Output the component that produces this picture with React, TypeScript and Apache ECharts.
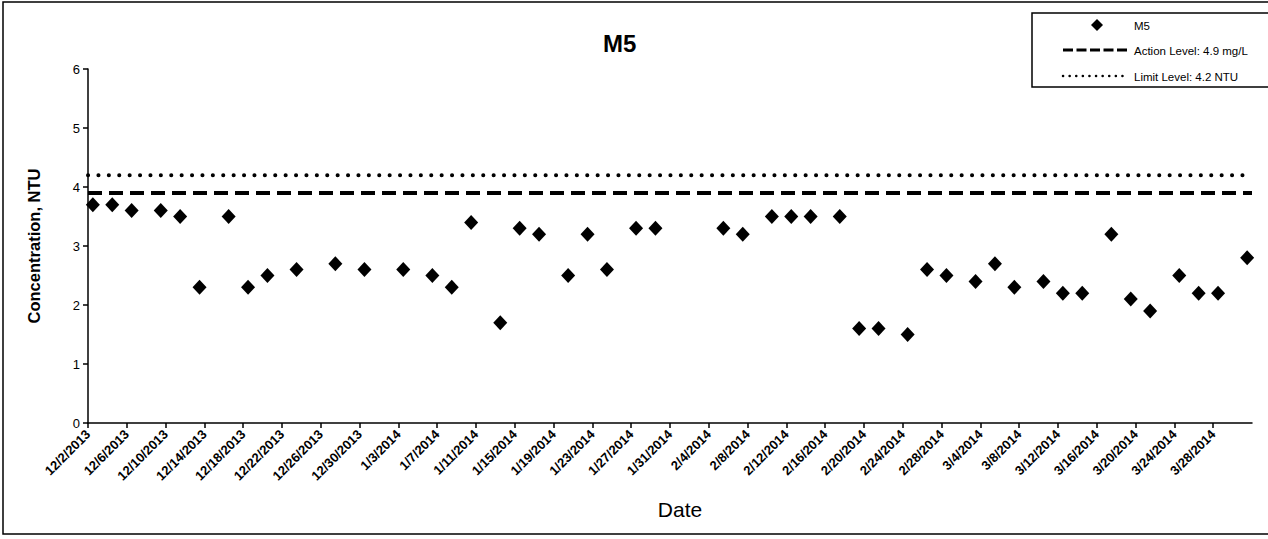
import React, { useEffect, useRef } from "react";
import * as echarts from "echarts";

// ---- data ----
const sampleDates: string[] = [
  "12/2/2013", "12/4/2013", "12/6/2013", "12/9/2013", "12/11/2013", "12/13/2013",
  "12/16/2013", "12/18/2013", "12/20/2013", "12/23/2013", "12/27/2013", "12/30/2013",
  "1/3/2014", "1/6/2014", "1/8/2014", "1/10/2014", "1/13/2014", "1/15/2014",
  "1/17/2014", "1/20/2014", "1/22/2014", "1/24/2014", "1/27/2014", "1/29/2014",
  "2/5/2014", "2/7/2014", "2/10/2014", "2/12/2014", "2/14/2014", "2/17/2014",
  "2/19/2014", "2/21/2014", "2/24/2014", "2/26/2014", "2/28/2014", "3/3/2014",
  "3/5/2014", "3/7/2014", "3/10/2014", "3/12/2014", "3/14/2014", "3/17/2014",
  "3/19/2014", "3/21/2014", "3/24/2014", "3/26/2014", "3/28/2014", "3/31/2014",
];
const m5Values: number[] = [
  3.7, 3.7, 3.6, 3.6, 3.5, 2.3,
  3.5, 2.3, 2.5, 2.6, 2.7, 2.6,
  2.6, 2.5, 2.3, 3.4, 1.7, 3.3,
  3.2, 2.5, 3.2, 2.6, 3.3, 3.3,
  3.3, 3.2, 3.5, 3.5, 3.5, 3.5,
  1.6, 1.6, 1.5, 2.6, 2.5, 2.4,
  2.7, 2.3, 2.4, 2.2, 2.2, 3.2,
  2.1, 1.9, 2.5, 2.2, 2.2, 2.8,
];
const axisStartDate = "12/2/2013";
const axisEndDate = "4/1/2014";
const actionLevelValues: number[] = [3.9, 3.9];
const limitLevelValues: number[] = [4.2, 4.2];
const yTickValues: number[] = [0, 1, 2, 3, 4, 5, 6];
const xTickStepDays = 4;

const seriesNames = ["M5", "Action Level: 4.9 mg/L", "Limit Level: 4.2 NTU"];

const DAY = 86400000;
function toUTC(s: string): number {
  const [m, d, y] = s.split("/").map(Number);
  return Date.UTC(y, m - 1, d);
}
const startMs = toUTC(axisStartDate);
const endDay = Math.round((toUTC(axisEndDate) - startMs) / DAY);
function dayIndex(s: string): number {
  return Math.round((toUTC(s) - startMs) / DAY);
}
function dateLabel(v: number): string {
  const dt = new Date(startMs + v * DAY);
  return `${dt.getUTCMonth() + 1}/${dt.getUTCDate()}/${dt.getUTCFullYear()}`;
}

const FONT = "'Liberation Sans', Arial, sans-serif";

export default function App() {
  const ref = useRef<HTMLDivElement>(null);
  useEffect(() => {
    document.body.style.margin = "0";
    if (!ref.current) return;
    const chart = echarts.init(ref.current, undefined, { renderer: "svg" });

    // points are centred in their day (Excel date axis, between tick marks)
    const scatterData = sampleDates.map((d, i) => [dayIndex(d) + 0.5, m5Values[i]]);
    const actionData = [[0, actionLevelValues[0]], [endDay, actionLevelValues[1]]];
    const limitData = [[0, limitLevelValues[0]], [endDay, limitLevelValues[1]]];

    chart.setOption({
      animation: false,
      backgroundColor: "#ffffff",
      textStyle: { fontFamily: FONT, color: "#000" },
      title: {
        text: "M5",
        left: 598,
        top: 26,
        textStyle: { fontFamily: FONT, fontSize: 24, fontWeight: "bold", color: "#000" },
      },
      grid: { left: 88, right: 16, top: 69, bottom: 116 },
      xAxis: {
        type: "value",
        min: 0,
        max: endDay,
        interval: xTickStepDays,
        name: "Date",
        nameLocation: "middle",
        nameGap: 76,
        nameTextStyle: { fontFamily: FONT, fontSize: 21, color: "#000", padding: [0, 0, 0, 20] },
        axisLine: { lineStyle: { color: "#000", width: 1.5 } },
        axisTick: { length: 5, lineStyle: { color: "#000", width: 1.5 } },
        splitLine: { show: false },
        axisLabel: {
          rotate: 45,
          margin: 9,
          fontFamily: FONT,
          fontSize: 13,
          fontWeight: "bold",
          color: "#000",
          showMaxLabel: false,
          formatter: (v: number) => (v >= endDay ? "" : dateLabel(v)),
        },
      },
      yAxis: {
        type: "value",
        min: yTickValues[0],
        max: yTickValues[yTickValues.length - 1],
        interval: 1,
        name: "Concentration, NTU",
        nameLocation: "middle",
        nameGap: 46,
        nameRotate: 90,
        nameTextStyle: { fontFamily: FONT, fontSize: 16.5, fontWeight: "bold", color: "#000" },
        axisLine: { show: true, lineStyle: { color: "#000", width: 1.5 } },
        axisTick: { show: true, length: 5, lineStyle: { color: "#000", width: 1.5 } },
        splitLine: { show: false },
        axisLabel: { fontFamily: FONT, fontSize: 13, color: "#000", margin: 8 },
      },
      series: [
        {
          name: seriesNames[0],
          type: "scatter",
          data: scatterData,
          symbol: "diamond",
          symbolSize: [14, 15],
          itemStyle: { color: "#000", opacity: 1 },
          z: 5,
        },
        {
          name: seriesNames[1],
          type: "line",
          data: actionData,
          showSymbol: false,
          symbol: "none",
          lineStyle: { color: "#000", width: 4, type: [14, 7] },
          z: 3,
        },
        {
          name: seriesNames[2],
          type: "line",
          data: limitData,
          showSymbol: false,
          symbol: "none",
          lineStyle: { color: "#000", width: 4, type: [0.1, 10.3], cap: "round" },
          z: 3,
        },
      ],
      graphic: [
        {
          type: "rect",
          shape: { x: 3, y: 2, width: 1300, height: 532 },
          style: { fill: "none", stroke: "#000", lineWidth: 1.5 },
          silent: true,
        },
        {
          type: "rect",
          shape: { x: 1032, y: 13, width: 250, height: 74 },
          style: { fill: "#fff", stroke: "#000", lineWidth: 1.5 },
          silent: true,
          z: 10,
        },
        {
          type: "polygon",
          shape: { points: [[1097, 19], [1103, 25], [1097, 31], [1091, 25]] },
          style: { fill: "#000" },
          z: 11,
        },
        {
          type: "line",
          shape: { x1: 1063, y1: 50, x2: 1128, y2: 50 },
          style: { stroke: "#000", lineWidth: 3, lineDash: [10, 3.5] },
          z: 11,
        },
        {
          type: "line",
          shape: { x1: 1063, y1: 76, x2: 1128, y2: 76 },
          style: { stroke: "#000", lineWidth: 2.5, lineDash: [0.1, 6.5], lineCap: "round" },
          z: 11,
        },
        {
          type: "text",
          x: 1134,
          y: 26,
          style: { text: seriesNames[0], font: `11.5px ${FONT}`, fill: "#000", verticalAlign: "middle" },
          z: 11,
        },
        {
          type: "text",
          x: 1134,
          y: 51,
          style: { text: seriesNames[1], font: `11.5px ${FONT}`, fill: "#000", verticalAlign: "middle" },
          z: 11,
        },
        {
          type: "text",
          x: 1134,
          y: 77,
          style: { text: seriesNames[2], font: `11.5px ${FONT}`, fill: "#000", verticalAlign: "middle" },
          z: 11,
        },
      ],
    });
    return () => chart.dispose();
  }, []);
  return <div ref={ref} style={{ width: 1268, height: 539 }} />;
}
